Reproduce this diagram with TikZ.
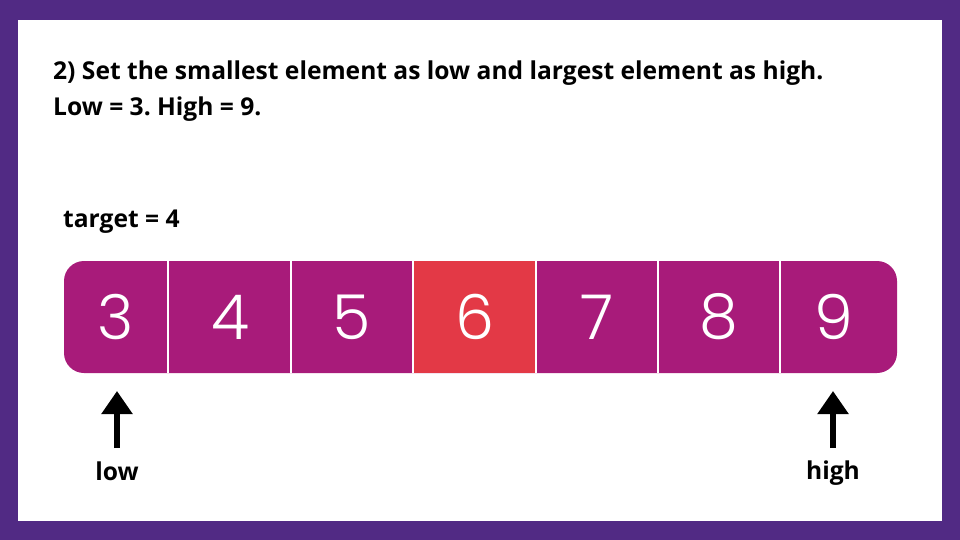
\documentclass[tikz,border=0pt]{standalone}
\usepackage{fontspec}
\setmainfont{Open Sans}
\IfFontExistsTF{Poppins Light}{\newfontfamily\digitfont{Poppins Light}\def\digsize{62}}{%
  \IfFontExistsTF{DejaVuSans-ExtraLight.ttf}{\newfontfamily\digitfont{DejaVuSans-ExtraLight.ttf}\def\digsize{60}}{%
    \newfontfamily\digitfont{Poppins}\def\digsize{62}}}
\usetikzlibrary{arrows.meta}
\definecolor{borderpurple}{HTML}{512A84}
\definecolor{cellmag}{HTML}{A81B7A}
\definecolor{cellred}{HTML}{E33946}
\tikzset{
  digit/.style={text=white,font=\digitfont\fontsize{\digsize}{\digsize}\selectfont,inner sep=0pt},
  lbl/.style={font=\bfseries\fontsize{24.6}{24.6}\selectfont,inner sep=0pt,anchor=west},
  ptr/.style={line width=5.5pt,-{Triangle[width=30pt,length=23pt]}},
  divider/.style={white,line width=1.6pt}
}
\frenchspacing
\begin{document}
\begin{tikzpicture}[x=1pt,y=-1pt]
\useasboundingbox (0,0) rectangle (960,540);
\fill[borderpurple] (0,0) rectangle (960,540);
\fill[white] (18,20) rectangle (942,521);
% title
\node[lbl,anchor=base west] (title1) at (53,80) {2) Set the smallest element as low and largest element as high.};
\node[lbl,anchor=base west] (title2) at (53,116) {Low = 3. High = 9.};
\node[lbl,anchor=base west] (target) at (63,227) {target = 4};
% array
\fill[cellmag,rounded corners=20pt] (64,261) rectangle (897,373);
\fill[cellred] (413,261) rectangle (536,373);
\foreach \x in {168,291,413,536,658,780}{\draw[divider] (\x,261) -- (\x,373);}
\node[digit] (c3) at (116,317) {3};
\node[digit] (c4) at (230,317) {4};
\node[digit] (c5) at (352,317) {5};
\node[digit] (c6) at (475,317) {6};
\node[digit] (c7) at (597,317) {7};
\node[digit] (c8) at (719,317) {8};
\node[digit] (c9) at (834,317) {9};
% pointers
\node[lbl,anchor=base] (low) at (117,480) {low};
\node[lbl,anchor=base] (high) at (833,479) {high};
\coordinate (lowtip) at (117,391);
\coordinate (hightip) at (833,391);
\coordinate (lowbase) at (117,448);
\coordinate (highbase) at (833,448);
\draw[ptr] (lowbase) -- (lowtip);
\draw[ptr] (highbase) -- (hightip);
\end{tikzpicture}
\end{document}
